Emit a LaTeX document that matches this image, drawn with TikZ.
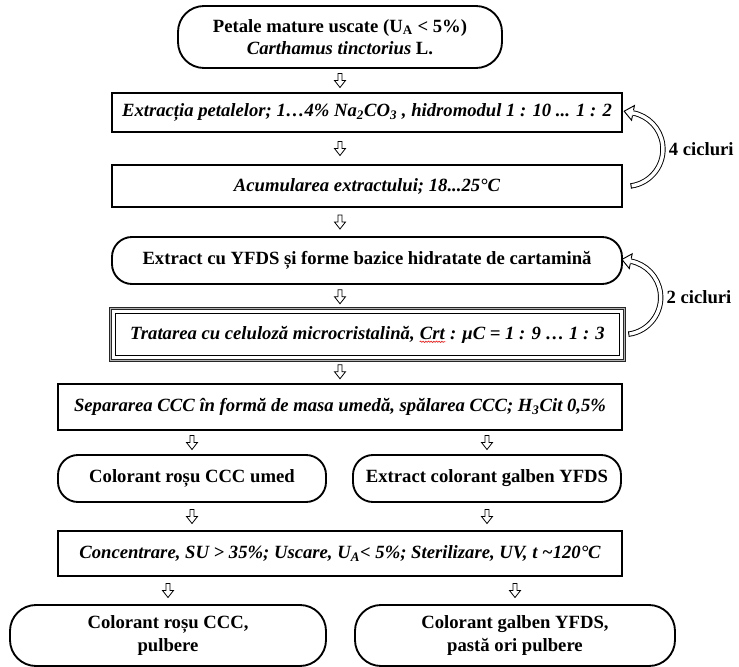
\documentclass[tikz,border=0pt]{standalone}
\usepackage{fontspec}
\setmainfont{Liberation Serif}
\usetikzlibrary{calc,decorations.pathmorphing}

% red spell-check squiggle under a word
\newcommand{\squig}[1]{\tikz[baseline=(w.base)]{\node[inner sep=0pt, minimum width=0pt, minimum height=0pt](w){#1};
  \draw[red,line width=0.4pt,decorate,decoration={snake,amplitude=0.5pt,segment length=2pt}]
    ([yshift=-2pt]w.base west) -- ([yshift=-2pt]w.base east);}}

\tikzset{
  basefont/.style={font=\fontsize{14pt}{17pt}\selectfont},
  every node/.style={basefont, align=center, inner sep=2pt},
  rectbox/.style={draw, line width=1.4pt, fill=white, minimum height=#1},
  roundbox/.style={draw, line width=1.4pt, fill=white, rounded corners=15pt, minimum height=#1,
    font=\fontsize{14pt}{17pt}\selectfont\bfseries},
  stepfont/.style={font=\fontsize{14pt}{17pt}\selectfont\bfseries\itshape},
  cyclabel/.style={anchor=west, font=\fontsize{14pt}{17pt}\selectfont\bfseries},
  pics/dnarrow/.style={code={
    \draw[line width=0.6pt, fill=white, line join=miter]
      (-2,-7) -- (2,-7) -- (2,0) -- (5.5,0) -- (0,7) -- (-5.5,0) -- (-2,0) -- cycle;}},
  pics/cyclearrow/.style={code={
    % curved hollow shaft
    \draw[line width=0.7pt, double=white, double distance=2.6pt]
      (5.15,36.64) arc[start angle=82, end angle=-79, radius=37];
    % closed tail
    \draw[line width=0.7pt] (5.52,39.31) -- (4.77,33.97);
    % hollow head
    \fill[white] (8.49,-43.68) -- (-1.77,-38.04) -- (5.63,-28.96) -- cycle;
    \draw[line width=0.7pt, line join=miter]
      (7.58,-38.97) -- (8.49,-43.68) -- (-1.77,-38.04) -- (5.63,-28.96) -- (6.54,-33.67);}}
}

\begin{document}
\begin{tikzpicture}[x=0.75pt, y=-0.75pt]
\useasboundingbox (0,0) rectangle (739,667);

% main column
\node[roundbox=46.5pt, minimum width=243pt, rounded corners=19.5pt] (b1) at (340,37)
  {Petale mature uscate (U\textsubscript{A} < 5\%)\\ \textit{Carthamus tinctorius} L.};
\node[rectbox=29.25pt, minimum width=382.5pt, stepfont] (b2) at (367,112.5)
  {Extracția petalelor; 1…4\% Na\textsubscript{2}CO\textsubscript{3} , hidromodul 1 : 10 ... 1 : 2};
\node[rectbox=31.5pt, minimum width=382.5pt, stepfont] (b3) at (367,186)
  {Acumularea extractului; 18...25°C};
\node[roundbox=35.25pt, minimum width=382.5pt] (b4) at (367,260.5)
  {Extract cu YFDS și forme bazice hidratate de cartamină};
\node[minimum width=385pt, minimum height=38.5pt, stepfont] (b5) at (367.5,334.5)
  {Tratarea cu celuloză microcristalină, \squig{Crt} : μC = 1 : 9 … 1 : 3};
% triple frame of the treatment step
\draw[black!85, line width=0.8pt, double=gray!60, double distance=1.2pt]
  (b5.north west) rectangle (b5.south east);
\draw[line width=1.1pt] ([shift={(5,5)}]b5.north west) rectangle ([shift={(-5,-5)}]b5.south east);
\node[rectbox=34.5pt, minimum width=423pt, stepfont] (b6) at (340,407)
  {Separarea CCC în formă de masa umedă, spălarea CCC; H\textsubscript{3}Cit 0,5\%};

% two branches
\node[roundbox=35.25pt, minimum width=201pt] (b7a) at (192,478.5) {Colorant roșu CCC umed};
\node[roundbox=35.25pt, minimum width=201pt] (b7b) at (487,478.5) {Extract colorant galben YFDS};
\node[rectbox=33.75pt, minimum width=423pt, stepfont] (b8) at (340,553.5)
  {Concentrare, SU > 35\%; Uscare, U\textsubscript{A}< 5\%; Sterilizare, UV, t \textasciitilde120°C};
\node[roundbox=45.75pt, minimum width=237pt, rounded corners=19.5pt] (b9a) at (168,635.5)
  {Colorant roșu CCC,\\ pulbere};
\node[roundbox=45.75pt, minimum width=240pt, rounded corners=19.5pt] (b9b) at (515,635.5)
  {Colorant galben YFDS,\\ pastă ori pulbere};

% hollow down arrows between the steps
\pic at ($(b1.south)!0.5!(b1.south |- b2.north)$) {dnarrow};
\pic at ($(b2.south -| b1.south)!0.5!(b3.north -| b1.south)$) {dnarrow};
\pic at ($(b3.south -| b1.south)!0.5!(b4.north -| b1.south)$) {dnarrow};
\pic at ($(b4.south -| b1.south)!0.5!(b5.north -| b1.south)$) {dnarrow};
\pic at ($(b5.south -| b1.south)!0.5!(b6.north -| b1.south)$) {dnarrow};
\pic at ($(b6.south -| b7a.south)!0.5!(b7a.north)$) {dnarrow};
\pic at ($(b6.south -| b7b.south)!0.5!(b7b.north)$) {dnarrow};
\pic at ($(b7a.south)!0.5!(b7a.south |- b8.north)$) {dnarrow};
\pic at ($(b7b.south)!0.5!(b7b.south |- b8.north)$) {dnarrow};
\pic at ($(b8.south -| b9a.north)!0.5!(b9a.north)$) {dnarrow};
\pic at ($(b8.south -| b9b.north)!0.5!(b9b.north)$) {dnarrow};

% recirculation loops
\coordinate (loopA) at ($(b3.east)!0.5!(b2.east) + (3,0)$);
\coordinate (loopB) at ($(b5.east)!0.5!(b4.east) + (0,0)$);
\pic at (loopA) {cyclearrow};
\pic at (loopB) {cyclearrow};
\node[cyclabel] (lA) at ($(loopA)+(40,0)$) {4 cicluri};
\node[cyclabel] (lB) at ($(loopB)+(40,0)$) {2 cicluri};
\end{tikzpicture}
\end{document}
